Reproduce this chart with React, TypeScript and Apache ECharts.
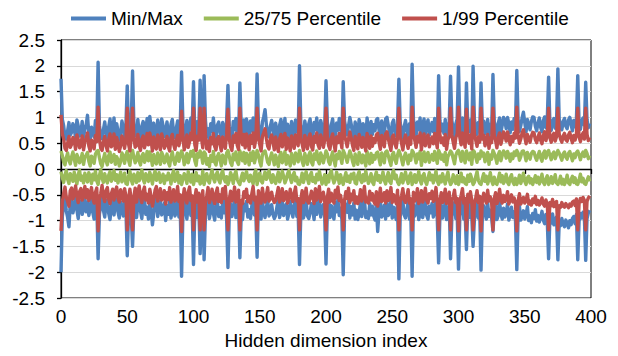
import React, { useEffect, useRef } from "react";
import * as echarts from "echarts";

// Values in hundredths, index 0..399 (20 per row)
const maxVals = [
  175, 96, 84, 62, 58, 74, 90, 66, 71, 88, 79, 60, 95, 83, 64, 70, 92, 61, 77, 86,
  104, 68, 57, 81, 73, 62, 94, 78, 207, 85, 63, 59, 76, 91, 70, 58, 82, 97, 66, 72,
  99, 61, 88, 74, 56, 69, 93, 80, 63, 86, 161, 72, 58, 90, 190, 87, 65, 71, 96, 68,
  59, 83, 92, 64, 75, 98, 70, 102, 81, 57, 89, 67, 62, 95, 78, 60, 97, 84, 63, 74,
  91, 66, 58, 87, 96, 71, 61, 79, 93, 68, 84, 188, 89, 60, 73, 94, 65, 77, 99, 82,
  169, 70, 59, 92, 81, 172, 86, 64, 181, 95, 62, 78, 57, 88, 73, 99, 67, 60, 85, 91,
  72, 58, 90, 80, 63, 94, 162, 83, 66, 59, 92, 76, 98, 69, 61, 167, 87, 71, 95, 64,
  97, 82, 60, 93, 74, 99, 65, 84, 184, 88, 70, 58, 91, 101, 115, 86, 67, 62, 83, 94,
  77, 60, 89, 72, 57, 85, 96, 66, 79, 98, 61, 87, 74, 58, 92, 80, 63, 95, 84, 68,
  200, 86, 71, 59, 93, 78, 62, 88, 97, 67, 60, 90, 76, 99, 70, 63, 94, 83, 65, 81,
  171, 92, 68, 61, 85, 97, 72, 58, 89, 75, 98, 81, 64, 169, 93, 79, 66, 84, 100, 87,
  69, 59, 91, 80, 62, 96, 83, 65, 88, 73, 58, 99, 77, 63, 92, 67, 86, 74, 95, 98,
  76, 61, 93, 84, 66, 97, 100, 85, 70, 59, 89, 95, 72, 64, 87, 174, 90, 73, 60, 82,
  94, 75, 63, 88, 71, 203, 96, 82, 65, 91, 76, 99, 60, 84, 97, 68, 86, 95, 66, 79,
  90, 72, 98, 81, 64, 181, 93, 74, 87, 69, 96, 61, 83, 91, 180, 94, 76, 63, 88, 97,
  198, 89, 70, 99, 82, 65, 167, 86, 73, 95, 62, 199, 97, 81, 67, 90, 75, 167, 84, 93,
  68, 80, 96, 63, 87, 74, 183, 92, 79, 64, 89, 99, 71, 85, 100, 93, 78, 100, 88, 70,
  91, 77, 98, 86, 191, 95, 73, 84, 99, 110, 90, 72, 96, 85, 76, 92, 101, 100, 83, 74,
  89, 99, 81, 72, 94, 101, 80, 96, 178, 87, 75, 93, 98, 79, 91, 194, 97, 84, 76, 92,
  98, 83, 78, 95, 100, 86, 74, 94, 82, 97, 181, 90, 77, 93, 99, 85, 168, 96, 80, 88,
];

const minVals = [
  -200, -92, -70, -58, -81, -94, -112, -66, -60, -85, -73, -57, -79, -96, -68, -62, -88, -75, -58, -83,
  -64, -90, -77, -59, -84, -97, -69, -61, -174, -87, -71, -56, -80, -93, -66, -60, -86, -98, -72, -63,
  -89, -68, -58, -83, -95, -64, -76, -91, -62, -78, -168, -85, -63, -90, -150, -79, -61, -94, -70, -57,
  -82, -96, -67, -59, -88, -74, -97, -63, -80, -108, -86, -65, -58, -92, -77, -62, -89, -83, -66, -100,
  -71, -88, -60, -95, -79, -64, -91, -84, -58, -93, -75, -208, -87, -62, -81, -97, -69, -59, -90, -78,
  -185, -83, -64, -94, -72, -164, -89, -66, -176, -91, -77, -60, -96, -82, -63, -86, -99, -70, -61, -92,
  -75, -95, -62, -85, -58, -97, -191, -88, -67, -92, -80, -59, -94, -84, -65, -172, -90, -98, -68, -81,
  -63, -93, -79, -96, -72, -58, -89, -82, -171, -66, -87, -97, -61, -83, -94, -74, -60, -91, -85, -69,
  -88, -96, -90, -73, -60, -94, -81, -62, -90, -76, -68, -97, -86, -63, -79, -93, -71, -59, -92, -84,
  -185, -87, -66, -95, -82, -61, -91, -96, -85, -67, -78, -98, -62, -88, -74, -58, -93, -80, -69, -90,
  -184, -81, -63, -94, -71, -86, -97, -65, -83, -59, -90, -76, -98, -205, -88, -68, -84, -61, -95, -73,
  -89, -66, -97, -80, -98, -87, -64, -92, -75, -58, -94, -83, -96, -67, -89, -72, -91, -99, -68, -121,
  -84, -61, -93, -88, -70, -97, -66, -90, -81, -60, -95, -74, -87, -98, -65, -213, -92, -77, -62, -89,
  -95, -80, -64, -97, -86, -208, -69, -91, -83, -62, -98, -87, -66, -94, -79, -61, -90, -97, -72, -85,
  -67, -93, -82, -60, -97, -182, -88, -70, -95, -81, -63, -98, -86, -69, -174, -92, -78, -65, -96, -84,
  -194, -91, -76, -62, -97, -85, -156, -73, -94, -68, -89, -150, -98, -83, -66, -95, -79, -196, -90, -71,
  -86, -97, -65, -92, -80, -94, -121, -84, -70, -98, -90, -63, -87, -97, -76, -93, -85, -68, -99, -88,
  -74, -94, -83, -98, -195, -90, -72, -99, -92, -81, -97, -88, -73, -100, -91, -104, -86, -96, -79, -101,
  -90, -103, -94, -82, -99, -106, -88, -101, -174, -95, -105, -87, -108, -98, -93, -176, -104, -110, -96, -107,
  -112, -99, -105, -114, -100, -108, -96, -92, -106, -88, -176, -101, -86, -95, -84, -93, -177, -96, -85, -80,
];

const p99Vals = [
  105, 68, 58, 40, 36, 50, 63, 42, 48, 61, 55, 38, 66, 57, 41, 47, 64, 37, 52, 60,
  70, 45, 35, 56, 49, 39, 65, 53, 120, 59, 40, 36, 52, 63, 46, 35, 57, 68, 43, 48,
  68, 38, 61, 50, 34, 45, 64, 55, 40, 59, 118, 48, 35, 62, 118, 60, 42, 47, 67, 44,
  36, 58, 64, 41, 51, 69, 47, 70, 56, 35, 62, 44, 39, 66, 54, 37, 68, 58, 40, 50,
  63, 43, 35, 60, 67, 48, 38, 55, 65, 45, 58, 112, 62, 37, 49, 66, 42, 53, 70, 57,
  118, 47, 36, 64, 56, 118, 60, 41, 118, 67, 39, 54, 34, 61, 49, 69, 44, 37, 59, 63,
  48, 35, 62, 55, 40, 66, 116, 58, 43, 36, 64, 52, 69, 46, 38, 118, 60, 47, 67, 41,
  68, 57, 37, 65, 50, 70, 42, 58, 118, 61, 47, 35, 63, 70, 78, 59, 44, 39, 57, 66,
  53, 37, 62, 48, 34, 59, 67, 43, 55, 69, 38, 60, 50, 35, 64, 56, 40, 66, 58, 45,
  118, 59, 48, 36, 65, 54, 39, 61, 68, 44, 37, 63, 52, 70, 47, 40, 66, 57, 42, 56,
  118, 64, 45, 38, 59, 68, 49, 35, 62, 51, 69, 56, 41, 118, 65, 55, 43, 58, 72, 60,
  46, 36, 63, 55, 39, 67, 57, 42, 61, 50, 35, 69, 53, 40, 64, 44, 59, 51, 66, 69,
  52, 38, 65, 58, 43, 68, 72, 59, 47, 36, 62, 66, 49, 41, 60, 118, 63, 50, 37, 56,
  66, 52, 40, 61, 48, 120, 67, 56, 42, 63, 53, 70, 37, 58, 68, 45, 60, 66, 43, 55,
  62, 49, 69, 56, 41, 118, 65, 51, 60, 46, 67, 38, 57, 63, 118, 66, 52, 40, 61, 68,
  120, 61, 47, 70, 57, 42, 116, 59, 50, 66, 39, 120, 68, 56, 44, 62, 52, 118, 58, 65,
  45, 56, 67, 40, 60, 51, 118, 64, 55, 41, 62, 70, 48, 59, 72, 65, 54, 72, 61, 47,
  63, 53, 69, 60, 120, 66, 50, 58, 70, 76, 62, 49, 67, 59, 52, 64, 71, 70, 57, 51,
  61, 70, 56, 49, 65, 72, 55, 67, 118, 60, 52, 64, 69, 54, 63, 118, 68, 58, 52, 64,
  69, 57, 54, 66, 71, 59, 51, 65, 56, 68, 118, 62, 53, 64, 70, 58, 118, 67, 55, 61,
];

const p1Vals = [
  -120, -64, -47, -35, -55, -63, -72, -42, -37, -58, -48, -33, -53, -65, -44, -38, -60, -50, -34, -56,
  -40, -61, -52, -36, -57, -66, -45, -37, -120, -59, -47, -32, -54, -63, -42, -36, -58, -67, -48, -39,
  -60, -44, -35, -56, -64, -40, -51, -62, -38, -53, -118, -57, -39, -61, -118, -54, -37, -64, -46, -33,
  -55, -65, -43, -35, -60, -49, -66, -39, -54, -72, -58, -41, -34, -62, -52, -38, -60, -56, -42, -68,
  -46, -59, -36, -64, -53, -40, -62, -57, -34, -63, -50, -121, -59, -38, -55, -66, -45, -35, -61, -52,
  -118, -56, -40, -64, -47, -118, -60, -42, -118, -62, -52, -36, -65, -55, -39, -58, -67, -46, -37, -63,
  -50, -65, -38, -57, -34, -66, -118, -59, -43, -62, -54, -35, -64, -57, -41, -118, -61, -67, -44, -55,
  -39, -63, -53, -66, -48, -34, -60, -55, -118, -42, -59, -66, -37, -56, -64, -50, -36, -62, -57, -45,
  -59, -65, -61, -49, -36, -64, -55, -38, -61, -51, -44, -66, -58, -39, -53, -63, -47, -35, -62, -57,
  -118, -59, -42, -65, -55, -37, -62, -66, -57, -43, -52, -67, -38, -60, -49, -34, -63, -54, -45, -61,
  -118, -55, -39, -64, -47, -58, -66, -41, -56, -35, -61, -51, -67, -118, -60, -44, -57, -37, -65, -49,
  -60, -42, -66, -54, -67, -59, -40, -62, -50, -34, -64, -56, -66, -43, -60, -48, -62, -68, -44, -72,
  -57, -37, -63, -60, -46, -66, -42, -61, -55, -36, -65, -50, -59, -67, -41, -118, -63, -52, -38, -60,
  -65, -54, -40, -66, -58, -118, -45, -62, -56, -38, -67, -59, -42, -64, -53, -37, -61, -66, -48, -57,
  -43, -63, -56, -36, -66, -118, -60, -46, -65, -55, -39, -67, -58, -45, -118, -62, -53, -41, -65, -57,
  -120, -62, -51, -38, -66, -57, -118, -49, -64, -44, -60, -118, -67, -56, -42, -65, -53, -120, -61, -47,
  -58, -66, -41, -62, -54, -64, -118, -57, -46, -67, -61, -39, -59, -66, -51, -63, -57, -44, -68, -60,
  -50, -64, -56, -67, -120, -61, -48, -68, -62, -55, -66, -60, -49, -68, -62, -70, -58, -65, -53, -69,
  -61, -70, -64, -56, -68, -72, -60, -69, -118, -65, -71, -59, -73, -67, -63, -118, -71, -74, -65, -72,
  -74, -67, -71, -75, -68, -72, -64, -62, -71, -58, -118, -67, -57, -63, -55, -61, -118, -63, -56, -52,
];

const p75Vals = [
  35, 26, 14, 8, 22, 31, 17, 10, 24, 33, 19, 7, 28, 21, 12, 18, 30, 9, 23, 27,
  32, 15, 6, 25, 20, 11, 29, 34, 36, 22, 10, 5, 19, 30, 16, 8, 26, 33, 13, 21,
  28, 9, 24, 18, 6, 14, 31, 25, 11, 27, 34, 17, 7, 29, 36, 23, 12, 20, 32, 15,
  8, 25, 30, 13, 19, 34, 16, 33, 22, 7, 28, 14, 10, 31, 21, 9, 32, 26, 12, 18,
  29, 13, 6, 24, 33, 18, 9, 21, 31, 15, 26, 35, 27, 8, 17, 30, 12, 22, 34, 25,
  36, 16, 7, 30, 23, 35, 27, 11, 33, 29, 9, 20, 5, 26, 15, 34, 13, 8, 24, 30,
  19, 6, 27, 22, 10, 31, 36, 25, 12, 7, 29, 18, 33, 14, 9, 35, 26, 16, 32, 11,
  30, 24, 8, 31, 17, 34, 12, 23, 36, 27, 14, 6, 28, 33, 35, 25, 13, 9, 22, 31,
  21, 8, 27, 16, 5, 24, 32, 12, 20, 34, 9, 26, 18, 6, 30, 22, 10, 31, 25, 14,
  36, 25, 15, 7, 30, 21, 9, 27, 33, 13, 8, 29, 19, 35, 16, 10, 31, 24, 12, 23,
  35, 29, 14, 9, 24, 33, 17, 6, 28, 20, 34, 23, 11, 36, 30, 22, 13, 25, 35, 27,
  15, 7, 29, 21, 9, 32, 24, 12, 27, 18, 6, 34, 20, 10, 30, 13, 26, 19, 31, 33,
  20, 8, 31, 25, 12, 33, 35, 26, 16, 7, 28, 32, 18, 11, 27, 36, 29, 19, 8, 23,
  31, 21, 10, 27, 17, 36, 32, 24, 12, 29, 20, 34, 7, 25, 33, 14, 27, 32, 13, 22,
  28, 17, 34, 23, 11, 36, 30, 19, 27, 15, 32, 8, 24, 29, 35, 31, 20, 10, 27, 33,
  36, 27, 15, 34, 24, 12, 35, 26, 18, 31, 9, 36, 33, 23, 13, 29, 20, 35, 25, 31,
  14, 23, 32, 9, 27, 19, 36, 30, 22, 11, 28, 34, 16, 26, 35, 31, 21, 34, 28, 15,
  29, 20, 33, 26, 36, 31, 17, 24, 34, 35, 28, 16, 32, 25, 19, 30, 34, 33, 23, 17,
  26, 34, 22, 15, 30, 35, 21, 32, 36, 26, 18, 29, 33, 20, 28, 36, 31, 24, 17, 29,
  33, 23, 19, 30, 34, 25, 16, 29, 22, 32, 35, 27, 18, 28, 33, 24, 36, 30, 20, 26,
];

const p25Vals = [
  -5, -17, -26, -12, -3, -20, -28, -9, -15, -24, -6, -19, -29, -11, -2, -22, -14, -27, -8, -18,
  -25, -7, -16, -28, -10, -21, -4, -23, -30, -13, -1, -18, -26, -9, -20, -27, -12, -5, -24, -15,
  -3, -22, -11, -27, -16, -6, -25, -19, -8, -28, -30, -14, -4, -21, -29, -10, -17, -26, -7, -23,
  -13, -2, -20, -27, -9, -18, -24, -6, -15, -29, -12, -4, -22, -17, -7, -26, -19, -10, -28, -14,
  -21, -8, -16, -29, -11, -3, -24, -18, -6, -27, -13, -30, -20, -9, -15, -28, -5, -17, -25, -10,
  -30, -19, -7, -23, -14, -29, -26, -4, -30, -17, -9, -22, -27, -12, -2, -18, -25, -11, -6, -21,
  -27, -10, -3, -19, -25, -15, -30, -22, -7, -14, -28, -11, -4, -20, -26, -30, -17, -8, -23, -13,
  -5, -18, -24, -12, -21, -29, -9, -2, -30, -16, -8, -23, -27, -14, -6, -20, -13, -3, -19, -26,
  -11, -22, -28, -15, -6, -25, -17, -4, -14, -27, -20, -9, -3, -18, -26, -12, -7, -23, -16, -29,
  -30, -21, -8, -26, -15, -5, -19, -28, -12, -7, -24, -17, -27, -10, -21, -4, -16, -29, -22, -11,
  -30, -13, -25, -9, -3, -18, -27, -20, -6, -15, -28, -11, -22, -30, -17, -7, -24, -14, -26, -10,
  -19, -8, -27, -29, -12, -5, -21, -26, -11, -23, -4, -16, -28, -20, -9, -25, -30, -14, -6, -22,
  -13, -26, -17, -6, -22, -29, -15, -7, -24, -28, -10, -3, -19, -12, -25, -30, -21, -9, -27, -16,
  -6, -20, -28, -14, -8, -30, -23, -11, -26, -17, -5, -22, -29, -13, -9, -24, -30, -18, -7, -21,
  -12, -27, -16, -4, -23, -30, -14, -25, -9, -20, -29, -15, -6, -22, -30, -26, -11, -19, -28, -13,
  -30, -21, -8, -25, -17, -28, -30, -12, -24, -10, -19, -30, -26, -15, -5, -22, -28, -30, -18, -9,
  -24, -14, -29, -20, -7, -23, -30, -16, -27, -30, -19, -8, -25, -13, -28, -21, -10, -26, -30, -17,
  -11, -25, -30, -18, -30, -23, -12, -28, -20, -8, -24, -30, -17, -14, -27, -19, -30, -22, -13, -26,
  -16, -29, -21, -10, -26, -30, -19, -13, -30, -25, -15, -28, -22, -11, -27, -30, -24, -14, -29, -20,
  -30, -23, -12, -27, -30, -20, -14, -26, -17, -29, -30, -21, -10, -25, -18, -28, -30, -22, -15, -24,
];

const legendNames = ["Min/Max", "25/75 Percentile", "1/99 Percentile"];
const xTitle = "Hidden dimension index";

const BLUE = "#4F81BD";
const GREEN = "#9BBB59";
const RED = "#C0504D";
const FONT = "'Liberation Sans', Arial, sans-serif";

const toPairs = (arr: number[]) => arr.map((v, i) => [i, v / 100]);

export default function App() {
  const ref = useRef<HTMLDivElement>(null);
  useEffect(() => {
    if (!ref.current) return;
    const chart = echarts.init(ref.current, null, { renderer: "svg" });
    const line = (name: string, color: string, arr: number[]) => ({
      name,
      type: "line",
      data: toPairs(arr),
      showSymbol: false,
      symbol: "none",
      lineStyle: { color, width: 3.4, join: "round" },
      itemStyle: { color },
    });
    chart.setOption({
      animation: false,
      backgroundColor: "#fff",
      textStyle: { fontFamily: FONT },
      legend: {
        data: legendNames,
        left: 66,
        top: 4,
        icon: "rect",
        itemWidth: 35,
        itemHeight: 4,
        itemGap: 21,
        textStyle: { fontSize: 19, color: "#000", fontFamily: FONT },
      },
      grid: {
        left: 61,
        right: 27,
        top: 40,
        bottom: 58,
        show: true,
        borderColor: "#000",
        borderWidth: 1,
        backgroundColor: "transparent",
      },
      xAxis: {
        type: "value",
        min: 0,
        max: 400,
        interval: 50,
        name: xTitle,
        nameLocation: "middle",
        nameGap: 32,
        nameTextStyle: { fontSize: 19, color: "#000", fontFamily: FONT },
        axisLine: { lineStyle: { color: "#000", width: 1.3 } },
        axisTick: { length: 5, lineStyle: { color: "#000", width: 1.3 } },
        axisLabel: { fontSize: 19, color: "#000", margin: 9, fontFamily: FONT },
        splitLine: { show: false },
      },
      yAxis: {
        type: "value",
        min: -2.5,
        max: 2.5,
        interval: 0.5,
        axisLine: { show: true, lineStyle: { color: "#000", width: 1.3 } },
        axisTick: { show: true, length: 4, lineStyle: { color: "#000", width: 1.3 } },
        axisLabel: { fontSize: 19, color: "#000", margin: 16, fontFamily: FONT },
        splitLine: { show: true, lineStyle: { color: "#D9D9D9", width: 1 } },
      },
      series: [
        line(legendNames[0], BLUE, maxVals),
        line(legendNames[0], BLUE, minVals),
        line(legendNames[1], GREEN, p75Vals),
        line(legendNames[1], GREEN, p25Vals),
        line(legendNames[2], RED, p99Vals),
        line(legendNames[2], RED, p1Vals),
      ],
    });
    return () => chart.dispose();
  }, []);
  return (
    <div
      ref={ref}
      style={{ position: "fixed", left: 0, top: 0, width: 618, height: 356 }}
    />
  );
}
